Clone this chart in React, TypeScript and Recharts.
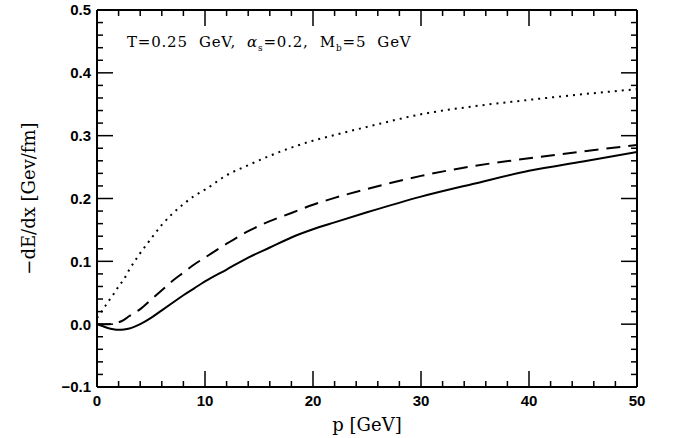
import { LineChart, Line, XAxis, YAxis } from 'recharts';

// momentum p [GeV]
const P = [0, 0.5, 1, 1.5, 2, 2.5, 3, 4, 5, 6, 7, 8, 9, 10, 12, 14, 16, 18, 20, 22, 25, 30, 35, 40, 45, 50];

// -dE/dx [GeV/fm]
const SOLID = [0, -0.003, -0.006, -0.008, -0.009, -0.0085, -0.007, 0.0, 0.01, 0.022, 0.034, 0.046, 0.057, 0.068, 0.087, 0.106, 0.122, 0.138, 0.151, 0.162, 0.178, 0.203, 0.224, 0.244, 0.259, 0.274];
const DASHED = [0, 0, 0, 0.001, 0.003, 0.007, 0.013, 0.024, 0.039, 0.054, 0.069, 0.082, 0.095, 0.106, 0.128, 0.148, 0.164, 0.177, 0.19, 0.201, 0.215, 0.236, 0.252, 0.264, 0.275, 0.285];
const DOTTED = [0.01, 0.022, 0.035, 0.047, 0.06, 0.072, 0.087, 0.113, 0.136, 0.158, 0.176, 0.191, 0.204, 0.214, 0.237, 0.253, 0.268, 0.281, 0.292, 0.301, 0.314, 0.334, 0.347, 0.357, 0.366, 0.374];

const X_MAJOR = [0, 10, 20, 30, 40, 50];
const X_MINOR = [2, 4, 6, 8, 12, 14, 16, 18, 22, 24, 26, 28, 32, 34, 36, 38, 42, 44, 46, 48];
const Y_MAJOR = [-0.1, 0, 0.1, 0.2, 0.3, 0.4, 0.5];
const Y_MINOR = [-0.08, -0.06, -0.04, -0.02, 0.02, 0.04, 0.06, 0.08, 0.12, 0.14, 0.16, 0.18, 0.22, 0.24, 0.26, 0.28, 0.32, 0.34, 0.36, 0.38, 0.42, 0.44, 0.46, 0.48];

const data = P.map((p, i) => ({ p, solid: SOLID[i], dashed: DASHED[i], dotted: DOTTED[i] }));
const X_TICKS = [...X_MAJOR, ...X_MINOR];
const Y_TICKS = [...Y_MAJOR, ...Y_MINOR];

const AXIS_LINE = { stroke: '#000', strokeWidth: 2 };
const SANS = '"Liberation Sans", Arial, sans-serif';
const SERIF = '"DejaVu Serif", "Liberation Serif", serif';

const fmtY = (v: number) => (v < 0 ? '\u2212' + Math.abs(v).toFixed(1) : v.toFixed(1));

type Side = 'bottom' | 'top' | 'left' | 'right';

// inward tick marks (long on majors), labels only on bottom/left majors
function makeTick(side: Side, majors: number[], withLabel: boolean) {
  return (props: any) => {
    const { x, y, payload } = props;
    const v = payload.value as number;
    const major = majors.some((m) => Math.abs(m - v) < 1e-9);
    const len = major ? 16 : 6;
    let x2 = x;
    let y2 = y;
    if (side === 'bottom') y2 = y - len;
    else if (side === 'top') y2 = y + len;
    else if (side === 'left') x2 = x + len;
    else x2 = x - len;
    const font = { fill: '#000', fontFamily: SANS, fontWeight: 'bold', fontSize: 15 };
    return (
      <g>
        <line x1={x} y1={y} x2={x2} y2={y2} stroke="#000" strokeWidth={1.5} />
        {withLabel && major && side === 'bottom' && (
          <text x={x} y={y + 8} dy="0.71em" textAnchor="middle" {...font}>
            {v}
          </text>
        )}
        {withLabel && major && side === 'left' && (
          <text x={x - 6} y={y} dy="0.36em" textAnchor="end" {...font}>
            {fmtY(v)}
          </text>
        )}
      </g>
    );
  };
}

export default function App() {
  const xDom: [number, number] = [0, 50];
  const yDom: [number, number] = [-0.1, 0.5];
  return (
    <div style={{ position: 'absolute', left: 0, top: 0, width: 673, height: 438, background: '#fff' }}>
      <LineChart width={673} height={438} data={data} margin={{ top: 9, right: 35, bottom: 0, left: 0 }}>
        <XAxis
          xAxisId="b"
          dataKey="p"
          type="number"
          domain={xDom}
          ticks={X_TICKS}
          interval={0}
          allowDataOverflow
          height={51}
          axisLine={AXIS_LINE}
          tickLine={false}
          tickSize={0}
          tickMargin={0}
          tick={makeTick('bottom', X_MAJOR, true)}
          label={{
            value: 'p [GeV]',
            position: 'insideBottom',
            offset: 7,
            fontFamily: SERIF,
            fontSize: 18,
            style: { fill: '#000' },
          }}
        />
        <XAxis
          xAxisId="t"
          orientation="top"
          dataKey="p"
          type="number"
          domain={xDom}
          ticks={X_TICKS}
          interval={0}
          allowDataOverflow
          height={1}
          axisLine={AXIS_LINE}
          tickLine={false}
          tickSize={0}
          tickMargin={0}
          tick={makeTick('top', X_MAJOR, false)}
        />
        <YAxis
          yAxisId="l"
          type="number"
          domain={yDom}
          ticks={Y_TICKS}
          interval={0}
          allowDataOverflow
          width={97}
          axisLine={AXIS_LINE}
          tickLine={false}
          tickSize={0}
          tickMargin={0}
          tick={makeTick('left', Y_MAJOR, true)}
          label={{
            value: '\u2212dE/dx [Gev/fm]',
            angle: -90,
            position: 'insideLeft',
            offset: 22,
            dx: 7,
            fontFamily: SERIF,
            fontSize: 18,
            style: { textAnchor: 'middle', fill: '#000' },
          }}
        />
        <YAxis
          yAxisId="r"
          orientation="right"
          type="number"
          domain={yDom}
          ticks={Y_TICKS}
          interval={0}
          allowDataOverflow
          width={1}
          axisLine={AXIS_LINE}
          tickLine={false}
          tickSize={0}
          tickMargin={0}
          tick={makeTick('right', Y_MAJOR, false)}
        />

        <Line xAxisId="b" yAxisId="l" dataKey="dotted" type="monotone" stroke="#000" strokeWidth={2} strokeDasharray="2 5" dot={false} isAnimationActive={false} />
        <Line xAxisId="b" yAxisId="l" dataKey="dashed" type="monotone" stroke="#000" strokeWidth={2} strokeDasharray="14 8" dot={false} isAnimationActive={false} />
        <Line xAxisId="b" yAxisId="l" dataKey="solid" type="monotone" stroke="#000" strokeWidth={2} dot={false} isAnimationActive={false} />
      </LineChart>
      <div
        style={{
          position: 'absolute',
          left: 127,
          top: 33,
          fontFamily: SERIF,
          fontSize: 15,
          letterSpacing: '0.8px',
          whiteSpace: 'pre',
          color: '#000',
        }}
      >
        {'T=0.25  GeV,  '}
        <i>α</i>
        <sub style={{ fontSize: 9 }}>s</sub>
        {'=0.2,  M'}
        <sub style={{ fontSize: 9 }}>b</sub>
        {'=5  GeV'}
      </div>
    </div>
  );
}
